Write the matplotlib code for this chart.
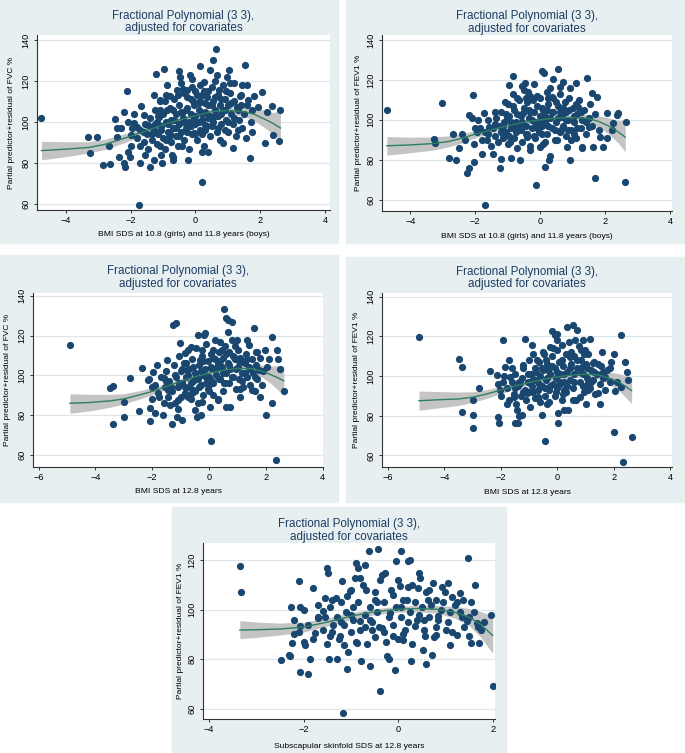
import matplotlib
matplotlib.use("Agg")
import matplotlib.pyplot as plt
from matplotlib.patches import Rectangle

plt.rcParams['font.family'] = ['Liberation Sans', 'DejaVu Sans']

W, H = 685, 753
BG = '#e7eff1'
GRID = '#dde7ea'
NAVY = '#1a476f'
LINE = '#2f7f62'
BAND = '#c4c4c4'
TITLE = "Fractional Polynomial (3 3),\nadjusted for covariates"

# ---- panel 1: FVC vs BMI SDS at 10.8/11.8 ----
fvc_a_pts = [
    (-4.76, 101.8), (-3.33, 92.5), (-3.04, 92.5), (-3.27, 84.7), (-2.84, 79), (-2.63, 79.5),
    (-2.68, 88), (-2.48, 101.5), (-2.42, 97), (-2.42, 92.8), (-2.37, 83), (-2.22, 105),
    (-2.22, 80), (-2.19, 78), (-2.12, 115.3), (-2.07, 100), (-2.07, 85.5), (-2.01, 83),
    (-1.99, 93.5), (-1.73, 59.5), (-1.7, 80), (-1.7, 88), (-1.81, 97.7), (-1.91, 99.3),
    (-1.96, 97), (-1.6, 103.4), (-1.69, 107.8), (-1.55, 84), (-1.4, 78), (-1.45, 98.5),
    (-1.29, 96), (-1.29, 113), (-1.27, 81.5), (-1.21, 123.4), (-1.14, 102.6), (-1.09, 110.7),
    (-1.09, 88), (-1.04, 80), (-0.96, 126), (-0.88, 118), (-0.88, 105.9), (-0.83, 92.8),
    (-0.78, 112.4), (-0.73, 84), (-0.68, 81.5), (-0.58, 115.6), (-0.52, 124.6), (-0.47, 122),
    (-0.42, 104.2), (-0.42, 88), (-0.27, 115.6), (-0.22, 81.5), (-0.16, 123), (-0.08, 110),
    (-0.06, 94.5), (0.14, 127.3), (0.19, 70.9), (0.2, 85.5), (0.25, 119.7), (0.3, 98.5),
    (0.4, 85.5), (0.45, 125.4), (0.53, 130.2), (0.64, 135.4), (0.66, 123), (0.71, 115.6),
    (0.76, 91.2), (0.86, 89.6), (0.97, 122), (1.02, 125.4), (1.07, 118.9), (1.17, 87.2),
    (1.27, 107.5), (1.38, 112.4), (1.42, 118), (1.53, 127.8), (1.58, 118), (1.63, 110.7),
    (1.69, 82.6), (1.74, 105.9), (1.79, 112.4), (1.94, 107.5), (2.05, 114.8), (2.15, 89.6),
    (2.2, 105), (2.35, 107.8), (2.4, 93.7), (2.59, 90.9), (2.61, 105.9),
    (-1.8, 92), (-1.7, 96), (-1.6, 90), (-1.55, 99), (-1.5, 94), (-1.45, 87), (-1.4, 102),
    (-1.35, 91), (-1.3, 97), (-1.25, 106), (-1.2, 89), (-1.2, 100), (-1.15, 94), (-1.1, 110),
    (-1.05, 98), (-1.0, 92), (-1.0, 104), (-0.95, 87), (-0.9, 100), (-0.9, 113), (-0.85, 95),
    (-0.8, 107), (-0.75, 90), (-0.75, 101), (-0.7, 97), (-0.65, 111), (-0.6, 93), (-0.6, 104),
    (-0.55, 88), (-0.5, 99), (-0.5, 108), (-0.45, 95), (-0.4, 116), (-0.4, 102), (-0.35, 91),
    (-0.3, 106), (-0.3, 97), (-0.25, 112), (-0.2, 100), (-0.2, 87), (-0.15, 104), (-0.1, 94),
    (-0.1, 117), (-0.05, 108), (0.0, 99), (0.0, 103), (0.05, 113), (0.05, 91), (0.1, 106),
    (0.15, 96), (0.15, 110), (0.2, 101), (0.25, 115), (0.25, 88), (0.3, 105), (0.35, 98),
    (0.35, 112), (0.4, 108), (0.45, 93), (0.45, 103), (0.5, 117), (0.55, 100), (0.55, 110),
    (0.6, 106), (0.65, 95), (0.7, 113), (0.7, 103), (0.75, 108), (0.8, 99), (0.85, 118),
    (0.85, 106), (0.9, 111), (0.95, 101), (1.0, 95), (1.0, 108), (1.05, 114), (1.1, 104),
    (1.15, 99), (1.2, 110), (1.25, 93), (1.3, 106), (1.35, 101), (1.4, 113), (1.45, 97),
    (1.5, 104), (1.55, 92), (1.6, 108), (1.7, 100), (1.75, 95), (-1.05, 84), (-0.7, 83),
    (0.2, 94), (-2.3, 97), (-2.0, 88), (-1.9, 104), (0.6, 120), (-0.1, 121), (1.2, 119),
]
fvc_a_core = [
    (-1.15, 103), (-1.05, 96), (-0.95, 110), (-0.85, 99), (-0.8, 94), (-0.7, 106), (-0.65, 101),
    (-0.55, 113), (-0.5, 93), (-0.45, 105), (-0.35, 100), (-0.35, 114), (-0.25, 95), (-0.25, 107),
    (-0.15, 98), (-0.15, 111), (-0.05, 102), (0.0, 94), (0.0, 115), (0.1, 100), (0.1, 109),
    (0.2, 104), (0.2, 113), (0.3, 96), (0.3, 109), (0.4, 102), (0.4, 115), (0.5, 98), (0.5, 108),
    (0.6, 103), (0.6, 112), (0.7, 97), (0.8, 104), (0.8, 111), (0.9, 96), (0.9, 106), (1.0, 100),
    (1.1, 109), (1.2, 102), (1.3, 96), (-1.35, 94), (-1.25, 99), (-1.6, 95), (-0.6, 97),
    (0.15, 118), (-0.45, 119), (0.95, 115), (1.4, 108), (-1.1, 106), (-0.9, 91),
]
fvc_a_fit_x = [-4.75, -4.0, -3.3, -2.8, -2.4, -2.0, -1.5, -1.0, -0.5, 0.0, 0.5, 1.0, 1.5, 1.8, 2.1, 2.4, 2.62]
fvc_a_fit = [86, 86.7, 87.5, 89, 91, 93, 95.8, 98.5, 101, 103, 105, 105.6, 105, 103.8, 101.6, 99.2, 97]
fvc_a_lo = [81.5, 83, 84.8, 86.5, 88.7, 91, 94, 97, 99.8, 101.8, 103.6, 104, 102.8, 100.8, 97.5, 94, 91.2]
fvc_a_hi = [90.5, 90.3, 90.3, 91.5, 93.3, 95, 97.6, 100, 102.2, 104.2, 106.4, 107.2, 107.2, 106.8, 105.8, 104.5, 105.9]

# ---- panel 2: FEV1 vs BMI SDS at 10.8/11.8 ----
fev_a_pts = [
    (-4.72, 104.8), (-3.28, 90.6), (-3.23, 88.5), (-3.03, 108.5), (-2.82, 81.1), (-2.67, 93.1),
    (-2.58, 79.8), (-2.51, 86.1), (-2.41, 93.1), (-2.26, 73.1), (-2.2, 75.6), (-2.2, 102.3),
    (-2.1, 100.7), (-2.07, 112.4), (-2.05, 78.9), (-2.05, 88.1), (-1.95, 94), (-1.85, 95.7),
    (-1.79, 83.1), (-1.74, 103.5), (-1.69, 57.2), (-1.64, 89.8), (-1.59, 96.5), (-1.44, 82.8),
    (-1.38, 104), (-1.23, 75.6), (-1.2, 80.6), (-1.15, 93.1), (-1.08, 109), (-1.03, 101.5),
    (-0.97, 117.4), (-0.92, 89), (-0.84, 121.9), (-0.77, 96.5), (-0.72, 110.7), (-0.62, 79.8),
    (-0.53, 103.2), (-0.46, 118.2), (-0.41, 91.5), (-0.36, 114), (-0.31, 84.8), (-0.21, 109.9),
    (-0.12, 67.2), (-0.1, 95.7), (0.0, 86.5), (0.05, 124.4), (0.12, 123.6), (0.15, 76.4),
    (0.2, 104.8), (0.26, 79.8), (0.36, 111.5), (0.41, 120.4), (0.51, 89.8), (0.56, 125.4),
    (0.62, 116.6), (0.67, 101.5), (0.82, 86.5), (0.92, 79.8), (0.92, 115.7), (1.03, 93.1),
    (1.11, 118.2), (1.18, 106.5), (1.28, 86.5), (1.44, 121.1), (1.49, 96.5), (1.59, 113.2),
    (1.64, 86.5), (1.69, 71), (1.74, 111.5), (1.85, 91.5), (1.95, 86.5), (2.05, 103.2),
    (2.05, 90.8), (2.21, 94.8), (2.24, 98.2), (2.36, 102.3), (2.41, 103.2), (2.62, 68.9),
    (2.65, 99),
    (-1.8, 90), (-1.7, 94), (-1.6, 100), (-1.5, 87), (-1.45, 96), (-1.4, 92), (-1.35, 101),
    (-1.3, 89), (-1.25, 97), (-1.2, 104), (-1.15, 91), (-1.1, 99), (-1.05, 94), (-1.0, 108),
    (-1.0, 88), (-0.95, 102), (-0.9, 96), (-0.85, 113), (-0.8, 91), (-0.8, 105), (-0.75, 99),
    (-0.7, 86), (-0.65, 110), (-0.6, 95), (-0.6, 102), (-0.55, 89), (-0.5, 106), (-0.5, 115),
    (-0.45, 97), (-0.4, 93), (-0.4, 109), (-0.35, 101), (-0.3, 87), (-0.3, 112), (-0.25, 96),
    (-0.2, 104), (-0.15, 91), (-0.15, 99), (-0.1, 107), (-0.05, 94), (0.0, 102), (0.0, 111),
    (0.05, 97), (0.1, 88), (0.1, 105), (0.15, 99), (0.2, 114), (0.2, 93), (0.25, 108),
    (0.3, 101), (0.35, 96), (0.4, 111), (0.4, 104), (0.45, 90), (0.5, 99), (0.55, 107),
    (0.6, 94), (0.6, 113), (0.65, 102), (0.7, 97), (0.75, 109), (0.8, 92), (0.8, 104),
    (0.85, 100), (0.9, 111), (0.95, 95), (1.0, 106), (1.05, 99), (1.1, 91), (1.15, 103),
    (1.2, 110), (1.25, 96), (1.3, 100), (1.35, 105), (1.4, 93), (1.5, 101), (1.55, 108),
    (1.6, 97), (1.7, 103), (1.8, 95), (-2.0, 96), (-1.9, 100), (-2.3, 90), (-0.9, 81),
    (0.3, 82), (1.3, 86), (-0.2, 118), (0.7, 119),
]
fev_a_core = [
    (-1.15, 97), (-1.05, 103), (-0.95, 92), (-0.85, 107), (-0.75, 94), (-0.7, 103), (-0.55, 99),
    (-0.45, 111), (-0.45, 93), (-0.35, 105), (-0.25, 100), (-0.2, 92), (-0.1, 112), (-0.05, 99),
    (0.05, 106), (0.05, 93), (0.15, 102), (0.25, 97), (0.25, 111), (0.35, 104), (0.45, 95),
    (0.5, 109), (0.55, 101), (0.65, 95), (0.7, 106), (0.8, 100), (0.9, 105), (0.95, 90),
    (1.05, 102), (1.15, 96), (1.25, 104), (1.4, 99), (-1.4, 98), (-1.2, 94), (-0.65, 97),
    (0.3, 116), (-0.55, 117), (0.85, 95), (-1.6, 93), (1.1, 108), (-0.3, 104), (0.15, 89),
    (-0.9, 99), (0.6, 104),
]
fev_a_fit_x = [-4.72, -4.0, -3.3, -2.8, -2.4, -2.0, -1.5, -1.0, -0.5, 0.0, 0.5, 1.0, 1.5, 1.8, 2.1, 2.4, 2.62]
fev_a_fit = [87, 87.4, 88.1, 89.2, 90.8, 92.8, 95, 97, 98.8, 100, 100.9, 101.1, 100.6, 99.2, 97, 94, 91.3]
fev_a_lo = [82.3, 83.5, 84.8, 86.5, 88.5, 91, 93.5, 95.7, 97.6, 98.8, 99.6, 99.6, 98.5, 96.4, 93, 88.5, 84]
fev_a_hi = [91.6, 91.3, 91.4, 92, 93.1, 94.6, 96.5, 98.3, 100, 101.2, 102.2, 102.6, 102.7, 102, 101, 99.6, 100]

# ---- panel 3: FVC vs BMI SDS at 12.8 ----
fvc_b_pts = [
    (-4.9, 115.3), (-3.49, 93.5), (-3.37, 94.6), (-3.37, 75.8), (-3.0, 86.7), (-3.0, 79.2),
    (-2.78, 98.5), (-2.46, 82.2), (-2.37, 103.5), (-2.14, 97.7), (-2.08, 77.2), (-2.08, 83.4),
    (-2.02, 94.3), (-1.96, 101.8), (-1.9, 80.9), (-1.84, 105.2), (-1.75, 89.3), (-1.61, 80),
    (-1.59, 98.5), (-1.49, 107.7), (-1.43, 92.6), (-1.37, 85.1), (-1.32, 75.8), (-1.28, 125.3),
    (-1.18, 126.2), (-1.14, 79.2), (-1.08, 87.6), (-1.02, 116.1), (-0.96, 77.5), (-0.96, 96),
    (-0.85, 111.1), (-0.79, 102.7), (-0.73, 89.3), (-0.65, 114.4), (-0.55, 92.6), (-0.49, 82.6),
    (-0.43, 79.2), (-0.38, 120.3), (-0.32, 107.7), (-0.26, 86.7), (-0.18, 120.3), (-0.14, 121.1),
    (-0.02, 95.1), (0.04, 84.2), (0.06, 67.1), (0.15, 112.8), (0.27, 104.4), (0.33, 87.6),
    (0.39, 116.9), (0.51, 96), (0.54, 133.2), (0.6, 128.7), (0.68, 122), (0.68, 127.9),
    (0.74, 84.2), (0.8, 127), (0.86, 109.4), (0.98, 117.8), (1.09, 89.3), (1.21, 106.9),
    (1.33, 117.8), (1.39, 115.3), (1.5, 92.6), (1.59, 124), (1.66, 111.9), (1.74, 102.7),
    (1.8, 89.3), (1.97, 112.8), (2.0, 80), (2.03, 104.4), (2.21, 85.9), (2.21, 119.5),
    (2.36, 57.4), (2.39, 112.8), (2.44, 108.1), (2.48, 103), (2.62, 92.3),
    (-2.0, 88), (-1.9, 95), (-1.8, 91), (-1.7, 99), (-1.6, 86), (-1.55, 94), (-1.5, 102),
    (-1.45, 89), (-1.4, 97), (-1.3, 92), (-1.25, 105), (-1.2, 86), (-1.15, 99), (-1.1, 94),
    (-1.05, 110), (-1.0, 89), (-1.0, 102), (-0.95, 96), (-0.9, 106), (-0.85, 91), (-0.8, 99),
    (-0.75, 113), (-0.7, 94), (-0.7, 103), (-0.65, 88), (-0.6, 108), (-0.55, 97), (-0.5, 101),
    (-0.5, 92), (-0.45, 114), (-0.4, 98), (-0.4, 86), (-0.35, 105), (-0.3, 95), (-0.25, 110),
    (-0.2, 100), (-0.2, 90), (-0.15, 103), (-0.1, 116), (-0.1, 96), (-0.05, 107), (0.0, 99),
    (0.0, 92), (0.05, 111), (0.1, 103), (0.15, 96), (0.2, 108), (0.2, 118), (0.25, 100),
    (0.3, 88), (0.3, 106), (0.35, 112), (0.4, 98), (0.45, 104), (0.5, 109), (0.5, 92),
    (0.55, 115), (0.6, 101), (0.65, 106), (0.7, 96), (0.7, 112), (0.75, 103), (0.8, 118),
    (0.85, 99), (0.9, 108), (0.95, 93), (1.0, 104), (1.0, 113), (1.05, 98), (1.1, 109),
    (1.15, 101), (1.2, 94), (1.25, 106), (1.3, 111), (1.35, 99), (1.4, 104), (1.45, 95),
    (1.5, 108), (1.55, 101), (1.6, 92), (1.65, 105), (1.7, 98), (1.8, 109), (1.85, 95),
    (1.9, 102), (-1.1, 83), (-0.3, 80), (0.6, 84), (-2.1, 98), (2.1, 108),
]
fvc_b_core = [
    (-1.35, 94), (-1.2, 100), (-1.05, 96), (-0.95, 103), (-0.85, 94), (-0.75, 100), (-0.65, 96),
    (-0.55, 104), (-0.45, 99), (-0.35, 94), (-0.3, 102), (-0.2, 107), (-0.1, 99), (-0.05, 93),
    (0.05, 104), (0.1, 97), (0.15, 109), (0.25, 103), (0.35, 98), (0.4, 107), (0.5, 101),
    (0.55, 96), (0.6, 111), (0.7, 105), (0.8, 99), (0.85, 110), (0.95, 103), (1.05, 107),
    (1.15, 97), (1.25, 101), (1.35, 108), (1.45, 103), (1.6, 99), (1.7, 112), (-0.6, 91),
    (0.15, 90), (-0.25, 113), (0.9, 115), (-1.5, 97), (1.1, 93), (0.45, 113), (-0.8, 106),
]
fvc_b_fit_x = [-4.9, -4.2, -3.5, -3.0, -2.5, -2.0, -1.5, -1.0, -0.5, 0.0, 0.5, 1.0, 1.5, 1.9, 2.2, 2.45, 2.63]
fvc_b_fit = [86, 86.4, 87.2, 88.2, 90, 92, 94.5, 97, 99.3, 101.2, 102.6, 103.5, 103.4, 102, 100.2, 98.6, 97.3]
fvc_b_lo = [81, 82.2, 84, 85.7, 87.9, 90.3, 93, 95.8, 98.2, 100, 101.3, 101.9, 101.2, 98.8, 95.6, 92.3, 90]
fvc_b_hi = [90.8, 90.5, 90.5, 90.8, 92.2, 93.8, 96, 98.3, 100.4, 102.4, 103.9, 105.1, 105.6, 105.2, 104.8, 104.7, 104.6]

# ---- panel 4: FEV1 vs BMI SDS at 12.8 ----
fev_b_pts = [
    (-4.89, 119.8), (-3.47, 108.7), (-3.38, 104.7), (-3.38, 81.7), (-2.99, 87.9), (-2.97, 80.4),
    (-2.99, 74), (-2.76, 94.1), (-2.4, 102.5), (-2.14, 100.8), (-2.11, 79.5), (-2.07, 76.2),
    (-2.03, 93), (-1.93, 118.1), (-1.91, 97.1), (-1.85, 104.7), (-1.79, 86.2), (-1.67, 99.7),
    (-1.61, 103.9), (-1.55, 89.6), (-1.5, 76.2), (-1.44, 82.9), (-1.38, 76.2), (-1.32, 96.3),
    (-1.26, 80.4), (-1.22, 105.5), (-1.14, 118.5), (-1.08, 91.3), (-0.97, 84.6), (-0.91, 115.6),
    (-0.85, 98.8), (-0.73, 108.1), (-0.67, 89.6), (-0.55, 80.4), (-0.49, 111.4), (-0.44, 67.4),
    (-0.38, 86.2), (-0.32, 103), (-0.26, 114.8), (-0.2, 122.8), (-0.08, 120.6), (-0.02, 118.1),
    (0.04, 76.5), (0.04, 81.2), (0.09, 97.1), (0.15, 115.6), (0.24, 93), (0.33, 124.8),
    (0.39, 82.9), (0.45, 109.7), (0.57, 125.7), (0.62, 118.1), (0.71, 123.2), (0.8, 89.6),
    (0.86, 104.7), (0.98, 113.1), (1.1, 96.3), (1.15, 118.5), (1.27, 106.4), (1.45, 91.3),
    (1.51, 86.2), (1.59, 112.2), (1.68, 99.7), (1.86, 103.9), (2.0, 72), (2.01, 111.4),
    (2.04, 92.6), (2.1, 97.1), (2.24, 120.6), (2.25, 94.6), (2.33, 56.9), (2.39, 107.2),
    (2.45, 102.2), (2.51, 98), (2.63, 69.5),
    (-2.0, 90), (-1.9, 100), (-1.8, 94), (-1.7, 88), (-1.6, 97), (-1.55, 91), (-1.5, 101),
    (-1.45, 86), (-1.4, 95), (-1.3, 90), (-1.25, 99), (-1.2, 104), (-1.15, 93), (-1.1, 88),
    (-1.05, 97), (-1.0, 108), (-1.0, 92), (-0.95, 101), (-0.9, 95), (-0.85, 111), (-0.8, 89),
    (-0.8, 104), (-0.75, 98), (-0.7, 93), (-0.65, 107), (-0.6, 87), (-0.6, 100), (-0.55, 95),
    (-0.5, 112), (-0.5, 103), (-0.45, 90), (-0.4, 98), (-0.35, 106), (-0.3, 93), (-0.3, 87),
    (-0.25, 101), (-0.2, 110), (-0.15, 96), (-0.1, 104), (-0.1, 90), (-0.05, 99), (0.0, 113),
    (0.0, 94), (0.05, 107), (0.1, 101), (0.15, 88), (0.2, 105), (0.25, 97), (0.3, 111),
    (0.3, 92), (0.35, 102), (0.4, 117), (0.45, 98), (0.5, 106), (0.55, 94), (0.6, 110),
    (0.6, 101), (0.65, 88), (0.7, 104), (0.75, 115), (0.8, 97), (0.85, 108), (0.9, 101),
    (0.95, 92), (1.0, 106), (1.05, 99), (1.1, 111), (1.15, 94), (1.2, 103), (1.25, 98),
    (1.3, 107), (1.35, 91), (1.4, 101), (1.5, 96), (1.55, 105), (1.6, 99), (1.7, 93),
    (1.75, 103), (1.85, 97), (1.9, 107), (-2.1, 96), (-1.7, 108), (-1.35, 80), (0.25, 83),
    (1.0, 86), (0.0, 121), (0.9, 118),
]
fev_b_core = [
    (-1.35, 97), (-1.2, 92), (-1.05, 101), (-0.95, 96), (-0.85, 92), (-0.75, 102), (-0.65, 96),
    (-0.55, 104), (-0.45, 94), (-0.35, 99), (-0.25, 95), (-0.2, 105), (-0.05, 92), (0.0, 102),
    (0.1, 96), (0.15, 108), (0.25, 101), (0.35, 95), (0.45, 104), (0.5, 112), (0.6, 97),
    (0.7, 108), (0.8, 102), (0.9, 95), (0.95, 111), (1.05, 104), (1.2, 97), (1.3, 102),
    (1.45, 106), (1.6, 102), (-0.4, 108), (0.2, 91), (-1.5, 94), (1.1, 93), (-0.7, 89),
    (0.55, 88), (-0.15, 114), (0.85, 113),
]
fev_b_fit_x = [-4.9, -4.2, -3.5, -3.0, -2.5, -2.0, -1.5, -1.0, -0.5, 0.0, 0.5, 1.0, 1.5, 1.9, 2.2, 2.45, 2.63]
fev_b_fit = [87.6, 88.1, 88.5, 89.4, 91, 93, 95, 96.8, 98.4, 99.6, 100.5, 101, 100.5, 98.7, 96.8, 94.5, 92.7]
fev_b_lo = [82.8, 84, 85.2, 86.8, 88.8, 91.2, 93.6, 95.6, 97.3, 98.5, 99.3, 99.5, 98.4, 95.5, 92.4, 88.8, 86.2]
fev_b_hi = [92.5, 92.2, 92, 92.1, 93.2, 94.8, 96.5, 98, 99.5, 100.8, 101.7, 102.4, 102.6, 101.9, 101.2, 100.2, 99.6]

# ---- panel 5: FEV1 vs subscapular skinfold SDS at 12.8 ----
fev_c_pts = [
    (-3.35, 117.5), (-3.33, 107), (-2.48, 79.5), (-2.31, 81.8), (-2.28, 81.1), (-2.26, 101.3),
    (-2.24, 86.5), (-2.21, 90.3), (-2.1, 111.5), (-2.08, 75), (-2.07, 101.1), (-2.07, 93.5),
    (-1.98, 85.8), (-1.91, 74), (-1.87, 80), (-1.81, 108.8), (-1.76, 90.6), (-1.69, 96.5),
    (-1.6, 99.3), (-1.55, 104.7), (-1.5, 116.9), (-1.48, 114.8), (-1.46, 80), (-1.45, 89.2),
    (-1.38, 93.9), (-1.31, 104.7), (-1.23, 89.2), (-1.18, 111.7), (-1.16, 58.2), (-1.15, 85.8),
    (-1.09, 105.4), (-1.08, 76), (-1.06, 83.1), (-1.02, 107.4), (-0.99, 98), (-0.92, 112.8),
    (-0.88, 86.5), (-0.86, 116.9), (-0.81, 95.3), (-0.78, 79.1), (-0.71, 118.2), (-0.67, 108.1),
    (-0.62, 123.6), (-0.6, 77.1), (-0.56, 91.9), (-0.49, 104), (-0.42, 124.6), (-0.39, 67.3),
    (-0.39, 112.1), (-0.35, 92.6), (-0.28, 114.8), (-0.23, 81.1), (-0.18, 98.7), (-0.11, 89.2),
    (-0.07, 75.7), (-0.04, 119.6), (0.04, 109.7), (0.06, 123.9), (0.11, 87.9), (0.18, 104),
    (0.21, 119.6), (0.25, 120.2), (0.28, 79.1), (0.35, 93.3), (0.42, 108.8), (0.46, 112.8),
    (0.53, 83.8), (0.56, 89.5), (0.64, 104), (0.71, 81.8), (0.74, 110.8), (0.81, 89.9),
    (0.85, 97.3), (0.92, 109.4), (1.02, 91.9), (1.06, 110.8), (1.09, 85.8), (1.2, 102),
    (1.24, 89.9), (1.31, 106.7), (1.38, 104), (1.45, 95.3), (1.48, 120.9), (1.5, 89.2),
    (1.55, 103), (1.55, 86.5), (1.62, 110.1), (1.67, 94.6), (1.71, 86.5), (1.76, 91.9),
    (1.81, 95), (1.96, 98), (2.0, 69),
    (-2.2, 96), (-2.1, 91), (-2.0, 100), (-1.9, 94), (-1.8, 88), (-1.7, 102), (-1.6, 92),
    (-1.55, 97), (-1.5, 86), (-1.45, 101), (-1.4, 91), (-1.3, 97), (-1.25, 88), (-1.2, 103),
    (-1.15, 94), (-1.1, 99), (-1.0, 91), (-1.0, 108), (-0.95, 96), (-0.9, 87), (-0.85, 103),
    (-0.8, 92), (-0.75, 110), (-0.7, 98), (-0.65, 86), (-0.6, 101), (-0.55, 95), (-0.5, 89),
    (-0.5, 107), (-0.45, 99), (-0.4, 93), (-0.35, 114), (-0.3, 103), (-0.25, 87), (-0.2, 97),
    (-0.15, 108), (-0.1, 94), (-0.05, 101), (0.0, 88), (0.0, 112), (0.05, 97), (0.1, 104),
    (0.15, 92), (0.2, 109), (0.25, 99), (0.3, 86), (0.35, 103), (0.4, 96), (0.45, 115),
    (0.5, 101), (0.55, 92), (0.6, 107), (0.65, 97), (0.7, 102), (0.75, 89), (0.8, 104),
    (0.85, 96), (0.9, 100), (1.0, 107), (1.05, 95), (1.1, 99), (1.15, 91), (1.25, 103),
    (1.35, 97), (1.4, 93), (1.6, 99), (1.7, 93), (-0.9, 119), (-0.2, 80), (0.6, 78), (-1.3, 80),
]
fev_c_core = [
    (-1.7, 97), (-1.4, 104), (-1.2, 95), (-0.95, 101), (-0.7, 93), (-0.6, 96), (-0.45, 103),
    (-0.3, 91), (-0.1, 106), (0.05, 101), (0.2, 95), (0.3, 110), (0.45, 98), (0.65, 108),
    (0.8, 93), (0.95, 103), (1.15, 105), (1.3, 99), (-2.0, 87), (-0.8, 113), (0.1, 90),
    (0.55, 96), (1.5, 97),
]
fev_c_fit_x = [-3.35, -3.0, -2.5, -2.0, -1.5, -1.0, -0.5, 0.0, 0.4, 0.8, 1.2, 1.5, 1.75, 2.0]
fev_c_fit = [91.8, 91.9, 92.2, 93, 95, 97.4, 99.2, 100.2, 100.5, 100.2, 99, 97, 94, 89.6]
fev_c_lo = [88.3, 88.8, 89.8, 91, 93.4, 96, 98, 99, 99.2, 98.7, 96.6, 93.6, 88.8, 82.4]
fev_c_hi = [95.6, 95, 94.6, 95, 96.7, 98.8, 100.4, 101.4, 101.8, 101.7, 101.4, 100.5, 99.2, 97.6]

xlab_a = "BMI SDS at 10.8 (girls) and 11.8 years (boys)"
xlab_b = "BMI SDS at 12.8 years"
xlab_c = "Subscapular skinfold SDS at 12.8 years"
ylab_fvc = "Partial predictor+residual of FVC %"
ylab_fev = "Partial predictor+residual of FEV1 %"


fig = plt.figure(figsize=(W / 100, H / 100), dpi=100)


def panel(box, plot, xlim, ylim, xticks, yticks, pts, fx, fit, lo, hi, xlab, ylab,
          title_y, xlab_y, ylab_x):
    # box / plot given in pixels: (left, top, right, bottom)
    bl, bt, br, bb = box
    fig.add_artist(Rectangle((bl / W, 1 - bb / H), (br - bl) / W, (bb - bt) / H,
                             transform=fig.transFigure, color=BG, zorder=-5))
    l, t, r, b = plot
    ax = fig.add_axes([l / W, 1 - b / H, (r - l) / W, (b - t) / H])
    ax.set_facecolor('white')
    ax.fill_between(fx, lo, hi, color=BAND, lw=0, zorder=1)
    ax.scatter([p[0] for p in pts], [p[1] for p in pts], s=27, color=NAVY,
               linewidths=0, zorder=2)
    ax.plot(fx, fit, color=LINE, lw=1.0, zorder=3)
    ax.set_xlim(*xlim)
    ax.set_ylim(*ylim)
    ax.set_xticks(xticks)
    ax.set_yticks(yticks)
    ax.grid(axis='y', color=GRID, lw=0.9, zorder=0)
    ax.set_axisbelow(True)
    for s in ['top', 'right']:
        ax.spines[s].set_visible(False)
    for s in ['left', 'bottom']:
        ax.spines[s].set_color('#333333')
        ax.spines[s].set_linewidth(0.8)
    ax.tick_params(length=2.5, width=0.7, color='#333333', labelsize=6.6, pad=2)
    ax.tick_params(axis='y', labelrotation=90)
    for lab in ax.get_yticklabels():
        lab.set_va('center')
    ax.set_xlabel(xlab, fontsize=6.1)
    ax.set_ylabel(ylab, fontsize=6.0)
    ax.xaxis.label.set_va('center')
    ax.yaxis.label.set_va('center')
    ax.xaxis.set_label_coords(0.5, (b - xlab_y) / (b - t))
    ax.yaxis.set_label_coords((ylab_x - l) / (r - l), 0.5)
    fig.text((l + r) / 2 / W, 1 - title_y / H, TITLE, ha='center', va='center',
             fontsize=8.4, color='#1c3d63', linespacing=1.05)
    return ax


panel((0, 0, 338, 243), (37, 35, 330, 210), (-4.89, 4.15), (57, 142.4),
      [-4, -2, 0, 2, 4], [60, 80, 100, 120, 140],
      fvc_a_pts + fvc_a_core, fvc_a_fit_x, fvc_a_fit, fvc_a_lo, fvc_a_hi,
      xlab_a, ylab_fvc, 22, 235, 12)
panel((346, 0, 685, 243), (382, 35, 672, 211), (-4.87, 4.06), (54.3, 142.5),
      [-4, -2, 0, 2, 4], [60, 80, 100, 120, 140],
      fev_a_pts + fev_a_core, fev_a_fit_x, fev_a_fit, fev_a_lo, fev_a_hi,
      xlab_a, ylab_fev, 22.5, 237, 358)
panel((0, 255, 338, 502), (33, 293, 323, 467), (-6.2, 4.01), (54, 141.4),
      [-6, -4, -2, 0, 2, 4], [60, 80, 100, 120, 140],
      fvc_b_pts + fvc_b_core, fvc_b_fit_x, fvc_b_fit, fvc_b_lo, fvc_b_hi,
      xlab_b, ylab_fvc, 277.5, 491.5, 8)
panel((346, 257, 685, 502), (382, 293, 672, 467), (-6.21, 4.06), (54.2, 141.9),
      [-6, -4, -2, 0, 2, 4], [60, 80, 100, 120, 140],
      fev_b_pts + fev_b_core, fev_b_fit_x, fev_b_fit, fev_b_lo, fev_b_hi,
      xlab_b, ylab_fev, 278, 493, 357)
panel((172, 507, 506, 753), (203, 543, 495, 719), (-4.13, 2.05), (55.8, 127),
      [-4, -2, 0, 2], [60, 80, 100, 120],
      fev_c_pts + fev_c_core, fev_c_fit_x, fev_c_fit, fev_c_lo, fev_c_hi,
      xlab_c, ylab_fev, 530.5, 746.5, 180)

fig.savefig("out.png", dpi=100)
